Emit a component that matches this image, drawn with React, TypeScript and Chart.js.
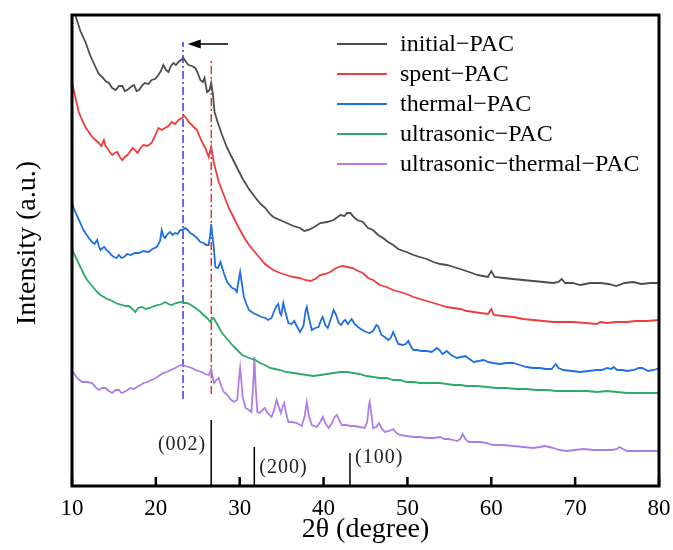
import { useEffect, useRef } from 'react';
import { Chart, registerables } from 'chart.js';

Chart.register(...registerables);

// ---------- data (2θ in degrees, intensity in arbitrary units) ----------
const seriesLabels = [
  'initial\u2212PAC',
  'spent\u2212PAC',
  'thermal\u2212PAC',
  'ultrasonic\u2212PAC',
  'ultrasonic\u2212thermal\u2212PAC',
];

const initialPAC: [number, number][] = [
  [10.3, 474], [10.5, 468], [11.0, 455], [11.6, 444], [12.2, 430], [12.8, 419], [13.2, 412], [13.6, 409],
  [14.0, 405], [14.4, 403], [14.8, 398], [15.2, 396], [15.6, 400], [16.0, 400], [16.3, 395], [16.6, 396],
  [17.0, 399], [17.4, 401], [17.7, 395], [18.0, 396], [18.4, 401], [18.7, 403], [19.1, 402], [19.5, 406],
  [19.9, 407], [20.3, 411], [20.6, 415], [20.9, 421], [21.2, 416], [21.5, 414], [21.8, 420], [22.1, 423],
  [22.4, 421], [22.7, 424], [23.0, 426], [23.3, 428], [23.6, 424], [23.9, 421], [24.3, 420], [24.7, 418],
  [25.0, 413], [25.3, 406], [25.6, 404], [25.8, 408], [26.1, 394], [26.4, 396], [26.6, 403], [26.8, 392],
  [27.0, 374], [27.4, 363], [27.9, 351], [28.5, 338], [29.1, 328], [29.7, 318], [30.3, 308], [31.1, 297],
  [31.9, 288], [32.5, 282], [33.05, 278], [33.6, 272], [34.0, 269], [34.8, 266], [35.6, 263], [36.4, 260],
  [37.2, 258], [37.7, 255], [38.2, 256], [38.9, 259], [39.6, 263], [40.4, 264], [41.2, 266], [42.0, 271],
  [42.5, 270], [42.8, 273], [43.2, 273], [43.6, 269], [44.0, 266], [44.7, 264], [45.3, 258], [45.9, 256],
  [46.5, 251], [47.1, 248], [47.7, 244], [48.3, 241], [48.9, 237], [49.5, 235], [49.9, 234], [50.7, 231],
  [51.5, 229], [52.3, 227], [53.1, 224], [53.9, 222], [54.7, 221], [55.5, 219], [56.3, 217], [57.0, 215],
  [57.7, 213], [58.3, 211], [59.0, 210], [59.6, 209], [60.0, 215], [60.4, 209], [61.5, 208], [62.6, 207],
  [63.8, 206], [65.0, 205], [66.2, 204], [67.4, 203], [68.0, 204], [68.4, 207], [68.8, 203], [69.7, 203],
  [70.6, 201], [71.8, 203], [73.0, 203], [74.0, 202], [74.9, 200], [75.9, 203], [76.9, 204], [77.9, 202],
  [79.0, 203], [80.0, 203],
];

const spentPAC: [number, number][] = [
  [10.0, 404], [10.2, 396], [10.5, 385], [10.8, 374], [11.2, 366], [11.6, 359], [12.0, 354], [12.4, 349],
  [12.8, 346], [13.2, 343], [13.5, 340], [13.8, 346], [14.0, 340], [14.2, 338], [14.5, 334], [14.8, 331],
  [15.1, 333], [15.4, 334], [15.7, 329], [16.0, 326], [16.3, 329], [16.6, 331], [16.9, 334], [17.2, 338],
  [17.5, 336], [17.8, 333], [18.1, 337], [18.5, 341], [19.0, 340], [19.5, 343], [19.9, 350], [20.3, 358],
  [20.7, 356], [21.1, 358], [21.5, 360], [21.9, 364], [22.3, 362], [22.7, 366], [23.1, 368], [23.4, 370],
  [23.7, 367], [23.9, 364], [24.4, 360], [24.9, 356], [25.2, 350], [25.5, 344], [25.9, 338], [26.3, 329],
  [26.6, 339], [26.9, 324], [27.2, 314], [27.5, 304], [28.1, 291], [28.7, 278], [29.3, 268], [29.9, 258],
  [30.5, 249], [31.1, 241], [31.7, 235], [32.3, 229], [33.0, 222], [34.0, 216], [34.8, 213], [35.6, 211],
  [36.4, 209], [37.2, 208], [37.8, 206], [38.4, 205], [39.0, 207], [39.6, 211], [40.2, 212], [40.8, 214],
  [41.5, 218], [42.2, 220], [42.8, 219], [43.5, 218], [44.1, 215], [44.7, 213], [45.3, 208], [45.9, 206],
  [46.7, 201], [47.5, 199], [48.3, 196], [49.1, 194], [49.9, 192], [50.7, 189], [51.5, 187], [52.3, 185],
  [53.1, 183], [53.9, 181], [54.7, 179], [55.5, 178], [56.3, 177], [57.1, 175], [57.9, 174], [58.7, 173],
  [59.6, 172], [60.0, 177], [60.3, 171], [61.4, 170], [62.6, 169], [63.8, 167], [65.0, 166], [66.2, 165],
  [67.4, 164], [68.6, 164], [69.8, 164], [71.2, 163], [72.6, 162], [73.0, 164], [73.8, 163], [74.9, 164],
  [76.1, 164], [77.3, 165], [78.6, 165], [80.0, 166],
];

const thermalPAC: [number, number][] = [
  [10.0, 284], [10.2, 278], [10.6, 270], [11.0, 263], [11.3, 257], [11.6, 253], [12.0, 248], [12.4, 244],
  [12.7, 242], [13.0, 246], [13.2, 240], [13.4, 236], [13.65, 238], [13.85, 239], [14.1, 236], [14.4, 234],
  [14.7, 231], [15.0, 229], [15.3, 228], [15.6, 231], [15.9, 228], [16.2, 229], [16.6, 232], [17.0, 231],
  [17.5, 233], [18.0, 233], [18.5, 235], [19.1, 234], [19.6, 237], [20.1, 239], [20.5, 245], [20.7, 256],
  [20.9, 250], [21.1, 248], [21.4, 252], [21.7, 254], [22.0, 251], [22.3, 253], [22.6, 252], [22.9, 256],
  [23.2, 256], [23.5, 258], [23.8, 256], [24.1, 253], [24.5, 251], [24.9, 248], [25.3, 244], [25.7, 243],
  [26.0, 241], [26.3, 241], [26.5, 252], [26.6, 262], [26.75, 250], [26.9, 239], [27.1, 219], [27.4, 218],
  [27.7, 224], [28.1, 213], [28.5, 204], [29.1, 198], [29.4, 197], [29.65, 194], [29.9, 207], [30.05, 214],
  [30.25, 203], [30.5, 189], [30.8, 182], [31.1, 176], [31.6, 173], [32.1, 171], [32.6, 169], [33.05, 168],
  [33.4, 166], [33.8, 168], [34.1, 175], [34.4, 180], [34.6, 182], [34.8, 173], [34.95, 171], [35.2, 183],
  [35.45, 174], [35.8, 163], [36.2, 162], [36.5, 165], [36.8, 160], [37.2, 154], [37.6, 160], [37.85, 175],
  [38.0, 179], [38.2, 170], [38.6, 156], [39.0, 158], [39.4, 159], [39.7, 166], [39.9, 169], [40.2, 161],
  [40.5, 158], [40.9, 168], [41.2, 176], [41.5, 171], [41.8, 163], [42.1, 161], [42.4, 165], [42.6, 166],
  [42.9, 162], [43.35, 167], [43.7, 162], [44.1, 159], [44.6, 156], [45.1, 154], [45.5, 153], [45.9, 155],
  [46.3, 161], [46.5, 160], [46.9, 151], [47.3, 149], [47.7, 146], [48.0, 148], [48.3, 154], [48.6, 148],
  [48.9, 142], [49.4, 141], [49.8, 142], [50.1, 145], [50.4, 140], [50.7, 136], [51.1, 136], [51.7, 135],
  [52.3, 135], [52.9, 134], [53.5, 138], [53.8, 136], [54.2, 132], [54.7, 135], [55.2, 131], [55.9, 128],
  [56.4, 129], [56.9, 130], [57.4, 127], [57.9, 124], [58.5, 125], [59.1, 126], [59.6, 124], [60.2, 123],
  [61.0, 122], [61.8, 123], [62.6, 123], [63.4, 121], [64.2, 119], [65.0, 118], [65.8, 118], [66.5, 117],
  [67.2, 117], [67.5, 120], [67.7, 122], [68.0, 118], [68.6, 116], [69.6, 115], [70.6, 114], [71.6, 115],
  [72.6, 116], [73.2, 116], [73.8, 118], [74.3, 117], [74.6, 119], [75.0, 116], [75.6, 116], [76.2, 115],
  [77.0, 116], [77.6, 118], [78.0, 118], [78.7, 115], [79.4, 116], [80.0, 118],
];

const ultrasonicPAC: [number, number][] = [
  [10.0, 238], [10.2, 233], [10.6, 226], [11.0, 219], [11.4, 212], [11.8, 206], [12.2, 202], [12.6, 198],
  [13.0, 194], [13.4, 191], [13.8, 189], [14.2, 187], [14.6, 186], [15.0, 184], [15.5, 182], [16.0, 181],
  [16.4, 180], [16.8, 180], [17.2, 177], [17.55, 174], [17.9, 178], [18.35, 179], [18.8, 177], [19.3, 178],
  [19.8, 180], [20.3, 181], [20.7, 182], [21.1, 184], [21.5, 182], [21.9, 181], [22.4, 183], [22.9, 184],
  [23.3, 183], [23.7, 183], [24.2, 181], [24.7, 178], [25.2, 175], [25.7, 171], [26.1, 168], [26.5, 164],
  [26.7, 167], [26.9, 168], [27.3, 162], [27.9, 153], [28.5, 147], [29.1, 141], [29.7, 136], [30.3, 131],
  [31.1, 128], [31.9, 126], [32.4, 123], [33.0, 121], [33.6, 118], [34.2, 117], [34.8, 116], [35.6, 114],
  [36.4, 113], [37.2, 112], [38.0, 111], [38.8, 110], [39.6, 111], [40.4, 112], [41.2, 113], [42.0, 114],
  [42.8, 114], [43.5, 113], [44.3, 112], [45.1, 110], [45.9, 109], [46.7, 108], [47.5, 108], [48.3, 106],
  [49.1, 106], [49.9, 104], [50.7, 104], [51.5, 103], [52.3, 103], [53.1, 103], [53.9, 103], [54.7, 102],
  [55.5, 101], [56.3, 101], [57.1, 100], [58.3, 100], [59.5, 99], [60.6, 98], [61.8, 98], [63.0, 97],
  [64.2, 97], [65.4, 96], [66.6, 96], [67.8, 95], [69.0, 95], [70.2, 95], [71.4, 95], [72.6, 94],
  [73.8, 95], [75.0, 94], [76.2, 93], [77.4, 93], [78.6, 93], [80.0, 93],
];

const ultrasonicThermalPAC: [number, number][] = [
  [10.0, 115], [10.2, 113], [10.6, 108], [11.2, 104], [11.8, 104], [12.4, 103], [12.8, 99], [13.2, 96],
  [13.6, 98], [14.0, 98], [14.4, 95], [14.8, 93], [15.2, 96], [15.6, 96], [15.9, 93], [16.2, 94],
  [16.6, 96], [17.0, 98], [17.4, 97], [17.75, 99], [18.15, 101], [18.55, 103], [19.0, 104], [19.5, 106],
  [20.0, 108], [20.5, 111], [20.9, 113], [21.3, 114], [21.8, 116], [22.3, 118], [22.7, 120], [23.1, 121],
  [23.5, 120], [23.9, 119], [24.3, 118], [24.7, 116], [25.1, 115], [25.5, 114], [25.9, 112], [26.3, 111],
  [26.6, 117], [26.8, 108], [26.95, 103], [27.2, 106], [27.5, 108], [27.8, 100], [28.1, 94], [28.4, 92],
  [28.7, 89], [29.0, 86], [29.3, 84], [29.7, 86], [29.9, 106], [30.05, 118], [30.2, 105], [30.35, 89],
  [30.7, 78], [31.1, 76], [31.4, 74], [31.6, 100], [31.75, 129], [31.9, 100], [32.1, 74], [32.4, 73],
  [32.7, 76], [33.0, 78], [33.3, 73], [33.8, 69], [34.1, 76], [34.4, 86], [34.7, 78], [34.9, 73],
  [35.1, 79], [35.3, 83], [35.5, 74], [35.8, 64], [36.3, 64], [36.8, 63], [37.4, 60], [37.75, 70],
  [38.0, 84], [38.25, 70], [38.6, 61], [39.2, 59], [39.6, 64], [39.9, 69], [40.2, 63], [40.6, 58],
  [41.0, 63], [41.3, 69], [41.6, 71], [41.9, 65], [42.2, 61], [42.7, 61], [43.2, 60], [43.7, 60],
  [44.3, 59], [44.9, 58], [45.2, 64], [45.4, 80], [45.5, 84], [45.65, 75], [45.9, 58], [46.3, 59],
  [46.6, 63], [46.9, 58], [47.3, 54], [47.8, 55], [48.3, 57], [48.7, 53], [49.1, 51], [49.9, 50],
  [50.7, 49], [51.5, 49], [52.3, 48], [53.1, 48], [53.9, 49], [54.4, 47], [54.9, 47], [55.5, 46],
  [55.9, 45], [56.3, 47], [56.6, 52], [56.9, 47], [57.3, 44], [58.0, 44], [58.7, 44], [59.4, 43],
  [60.2, 41], [61.4, 41], [62.6, 40], [63.8, 39], [65.0, 38], [65.8, 39], [66.4, 40], [66.9, 39],
  [67.4, 38], [68.2, 36], [69.0, 35], [70.0, 36], [71.0, 37], [72.2, 36], [73.4, 36], [74.4, 36],
  [75.0, 37], [75.3, 39], [75.7, 37], [76.2, 35], [77.2, 35], [78.2, 35], [79.1, 35], [80.0, 35],
];

// peak-shift guide lines (2θ, top and bottom intensity)
const shiftLineX = [23.24, 26.61];
const shiftLineTop = [444, 426];
const shiftLineBottom = [87, 92];

// standard graphite reflections
const refPeakX = [26.6, 31.74, 43.15];
const refPeakHeight = [66, 39, 33];
const refPeakLabels = ['(002)', '(200)', '(100)'];
const refLabelY = [41, 18, 28];

// shift arrow
const arrowFromX = 28.6;
const arrowToX = 23.8;
const arrowY = 442;

const xTicks = [10, 20, 30, 40, 50, 60, 70, 80];

const SERIF = '"Liberation Serif", "Times New Roman", Times, serif';
const seriesColors = ['#4d4d4d', '#ee3b3b', '#1f6fde', '#2fa868', '#b07de6'];

const decorPlugin = {
  id: 'decor',
  afterDatasetsDraw(chart: any) {
    const { ctx, chartArea, scales } = chart;
    const xs = scales.x;
    const ys = scales.y;
    const { left, right, top, bottom } = chartArea;
    ctx.save();

    // inward ticks on the bottom axis
    ctx.strokeStyle = '#000';
    ctx.lineWidth = 2.5;
    for (const t of xTicks) {
      const px = xs.getPixelForValue(t);
      ctx.beginPath();
      ctx.moveTo(px, bottom);
      ctx.lineTo(px, bottom - 9);
      ctx.stroke();
    }

    // frame
    ctx.lineWidth = 3;
    ctx.strokeRect(left, top, right - left, bottom - top);

    // arrow
    const ax1 = xs.getPixelForValue(arrowFromX);
    const ax2 = xs.getPixelForValue(arrowToX);
    const ay = ys.getPixelForValue(arrowY);
    ctx.lineWidth = 1.5;
    ctx.beginPath();
    ctx.moveTo(ax1, ay);
    ctx.lineTo(ax2 + 8, ay);
    ctx.stroke();
    ctx.fillStyle = '#000';
    ctx.beginPath();
    ctx.moveTo(ax2, ay);
    ctx.lineTo(ax2 + 13, ay - 4.5);
    ctx.lineTo(ax2 + 13, ay + 4.5);
    ctx.closePath();
    ctx.fill();

    // reflection labels
    ctx.font = `20px ${SERIF}`;
    ctx.fillStyle = '#222';
    try { (ctx as any).letterSpacing = '1px'; } catch (e) { /* ignore */ }
    ctx.textBaseline = 'middle';
    refPeakLabels.forEach((lab, i) => {
      const px = xs.getPixelForValue(refPeakX[i]);
      const py = ys.getPixelForValue(refLabelY[i]);
      if (i === 0) {
        ctx.textAlign = 'right';
        ctx.fillText(lab, px - 5, py);
      } else {
        ctx.textAlign = 'left';
        ctx.fillText(lab, px + 5, py);
      }
    });
    try { (ctx as any).letterSpacing = '0px'; } catch (e) { /* ignore */ }

    // legend
    ctx.font = `24px ${SERIF}`;
    ctx.fillStyle = '#000';
    ctx.textAlign = 'left';
    ctx.textBaseline = 'middle';
    seriesLabels.forEach((lab, i) => {
      const y = 44 + i * 30;
      ctx.strokeStyle = seriesColors[i];
      ctx.lineWidth = 2;
      ctx.beginPath();
      ctx.moveTo(337, y);
      ctx.lineTo(387, y);
      ctx.stroke();
      ctx.fillText(lab, 400, y + 1);
    });

    // y title
    ctx.save();
    ctx.translate(28, 243);
    ctx.rotate(-Math.PI / 2);
    ctx.font = `28px ${SERIF}`;
    ctx.fillStyle = '#000';
    ctx.textAlign = 'center';
    ctx.textBaseline = 'middle';
    ctx.fillText('Intensity (a.u.)', 0, 0);
    ctx.restore();

    ctx.restore();
  },
};

export default function App() {
  const ref = useRef<HTMLCanvasElement>(null);
  useEffect(() => {
    const canvas = ref.current;
    if (!canvas) return;
    const curves = [initialPAC, spentPAC, thermalPAC, ultrasonicPAC, ultrasonicThermalPAC];
    const datasets: any[] = curves.map((d, i) => ({
      label: seriesLabels[i],
      data: d,
      borderColor: seriesColors[i],
      backgroundColor: seriesColors[i],
      borderWidth: 1.8,
      pointRadius: 0,
      tension: 0,
      fill: false,
    }));
    const guideColors = ['#3434f2', '#ee2a2a'];
    shiftLineX.forEach((x, i) => {
      datasets.push({
        label: 'guide' + i,
        data: [[x, shiftLineBottom[i]], [x, shiftLineTop[i]]],
        borderColor: guideColors[i],
        borderWidth: 1.5,
        borderDash: [8, 3, 2, 3],
        pointRadius: 0,
        fill: false,
      });
    });
    refPeakX.forEach((x, i) => {
      datasets.push({
        label: refPeakLabels[i],
        data: [[x, 0], [x, refPeakHeight[i]]],
        borderColor: '#000',
        borderWidth: 1.5,
        pointRadius: 0,
        fill: false,
      });
    });

    const chart = new Chart(canvas, {
      type: 'line',
      data: { datasets },
      options: {
        responsive: false,
        animation: false,
        devicePixelRatio: 1,
        layout: { padding: { left: 0, right: 14, top: 15, bottom: 0 } },
        plugins: { legend: { display: false }, tooltip: { enabled: false } },
        scales: {
          x: {
            type: 'linear',
            min: 10,
            max: 80,
            grid: { display: false, drawTicks: false },
            border: { display: false },
            ticks: {
              stepSize: 10,
              autoSkip: false,
              maxRotation: 0,
              padding: 9,
              color: '#000',
              font: { family: SERIF, size: 23 },
            },
            title: {
              display: true,
              text: '2\u03b8 (degree)',
              color: '#000',
              font: { family: SERIF, size: 28 },
              padding: { top: 0, bottom: 4 },
            },
            afterFit: (s: any) => {
              s.height = 64;
              s.paddingLeft = 0;
              s.paddingRight = 0;
            },
          },
          y: {
            type: 'linear',
            min: 0,
            max: 471,
            grid: { display: false, drawTicks: false },
            border: { display: false },
            ticks: { display: false },
            afterFit: (s: any) => {
              s.width = 72;
              s.paddingTop = 0;
              s.paddingBottom = 0;
            },
          },
        },
      },
      plugins: [decorPlugin],
    });
    return () => chart.destroy();
  }, []);

  return (
    <div style={{ position: 'fixed', left: 0, top: 0, width: 673, height: 550, background: '#fff' }}>
      <canvas ref={ref} width={673} height={550} style={{ display: 'block', width: 673, height: 550 }} />
    </div>
  );
}
